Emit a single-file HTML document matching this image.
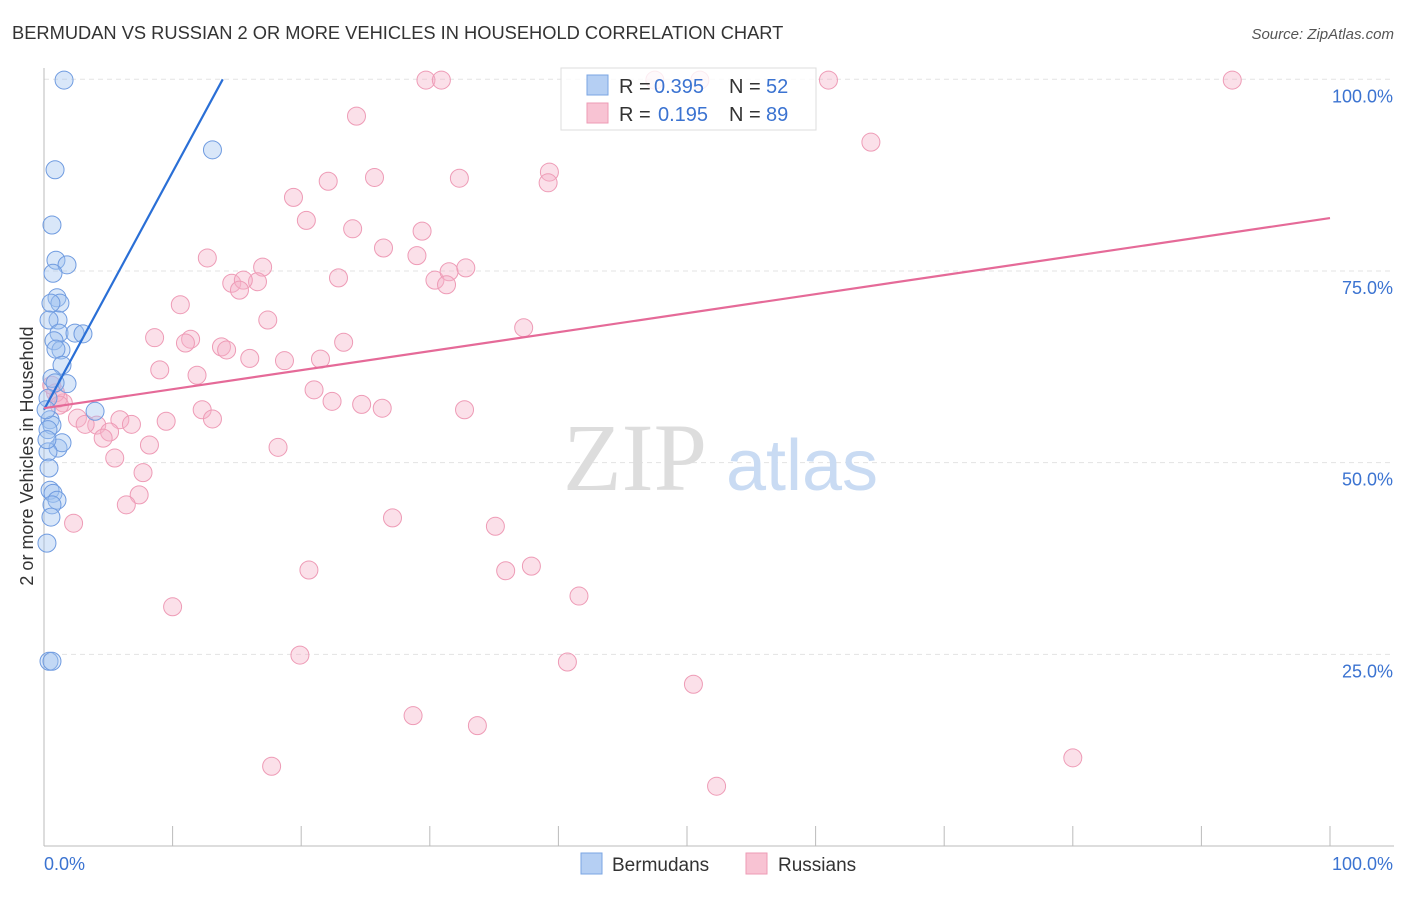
<!DOCTYPE html>
<html><head><meta charset="utf-8"><style>
body{margin:0;background:#fff;font-family:"Liberation Sans",sans-serif;}
</style></head><body>
<svg id="c" width="1406" height="892" xmlns="http://www.w3.org/2000/svg" style="font-family:'Liberation Sans',sans-serif">
<text x="12" y="39" font-size="18.3" fill="#333">BERMUDAN VS RUSSIAN 2 OR MORE VEHICLES IN HOUSEHOLD CORRELATION CHART</text>
<text x="1394" y="39" font-size="15" fill="#555" text-anchor="end" font-style="italic">Source: ZipAtlas.com</text>
<g id="grid"></g>
<g><text x="635" y="490" font-size="96" fill="#ddd" font-family="Liberation Serif" text-anchor="middle">ZIP</text><text x="802" y="490" font-size="72" fill="#c9dbf3" text-anchor="middle">atlas</text></g>
<g id="axes"></g>
<g id="pts"></g>
<g id="lines"></g>
<text transform="translate(33,456) rotate(-90)" font-size="18" fill="#333" text-anchor="middle">2 or more Vehicles in Household</text>
<g>
<rect x="561" y="68" width="255" height="62" fill="#fff" fill-opacity="0.8" stroke="#ddd"/>
<rect x="587" y="75" width="21" height="20" fill="#b5cff3" stroke="#7aa5e3"/>
<rect x="587" y="103" width="21" height="20" fill="#f8c3d3" stroke="#ee9bb6"/>
<text x="619" y="93" font-size="20" fill="#333">R =</text><text x="654" y="93" font-size="20" fill="#3b73d1">0.395</text>
<text x="729" y="93" font-size="20" fill="#333">N =</text><text x="766" y="93" font-size="20" fill="#3b73d1">52</text>
<text x="619" y="121" font-size="20" fill="#333">R =</text><text x="658" y="121" font-size="20" fill="#3b73d1">0.195</text>
<text x="729" y="121" font-size="20" fill="#333">N =</text><text x="766" y="121" font-size="20" fill="#3b73d1">89</text>
</g>
<g>
<rect x="581" y="853" width="21" height="21" fill="#b5cff3" stroke="#7aa5e3"/>
<text x="612" y="871" font-size="19" fill="#333">Bermudans</text>
<rect x="746" y="853" width="21" height="21" fill="#f8c3d3" stroke="#ee9bb6"/>
<text x="778" y="871" font-size="19" fill="#333">Russians</text>
</g>
</svg>
<script>
const blueX=[1.56,0.86,13.1,0.62,0.93,1.79,0.70,1.01,1.24,0.54,1.09,0.39,1.17,2.41,3.03,0.78,1.32,0.93,1.40,0.62,1.79,0.86,3.97,0.47,0.62,0.31,1.09,1.40,0.31,0.39,0.47,0.70,1.01,0.62,0.54,0.23,0.39,0.62,0.31,0.16,0.23];
const blueY=[99.9,88.2,90.8,81.0,76.4,75.8,74.7,71.5,70.8,70.8,68.6,68.6,66.9,66.9,66.8,65.9,64.7,64.8,62.7,61.0,60.3,60.4,56.7,55.6,54.9,54.3,51.9,52.6,51.4,49.3,46.4,46.0,45.1,44.5,42.9,39.5,24.1,24.1,58.4,56.9,53.0];
const pinkX=[29.7,30.9,47.5,51.0,61.0,92.4,24.3,64.3,39.3,39.2,22.1,25.7,32.3,19.4,20.4,24.0,29.4,26.4,29.0,12.7,17.0,30.4,31.5,32.8,31.3,14.6,16.6,15.5,15.2,22.9,10.6,17.4,37.3,8.6,11.4,11.0,23.3,13.8,14.2,16.0,18.7,21.5,9.0,11.9,21.0,22.4,24.7,26.3,32.7,12.3,5.9,9.5,13.1,2.6,4.1,5.1,6.8,3.2,4.6,8.2,5.5,18.2,7.7,7.4,6.4,2.3,27.1,35.1,20.6,35.9,37.9,41.6,10.0,19.9,40.7,50.5,28.7,33.7,17.7,80.0,52.3,1.5,1.1,0.9,1.2,0.6];
const pinkY=[99.9,99.9,99.9,99.9,99.9,99.9,95.2,91.8,87.9,86.5,86.7,87.2,87.1,84.6,81.6,80.5,80.2,78.0,77.0,76.7,75.5,73.8,74.9,75.4,73.2,73.4,73.6,73.8,72.5,74.1,70.6,68.6,67.6,66.3,66.1,65.6,65.7,65.1,64.7,63.6,63.3,63.5,62.1,61.4,59.5,58.0,57.6,57.1,56.9,56.9,55.6,55.4,55.7,55.8,54.9,54.0,55.0,55.0,53.2,52.3,50.6,52.0,48.7,45.8,44.5,42.1,42.8,41.7,36.0,35.9,36.5,32.6,31.2,24.9,24.0,21.1,17.0,15.7,10.4,11.5,7.8,57.8,58.4,59.1,57.5,60.1];
const blueLine=[[0,56.9],[13.9,100]];
const pinkLine=[[0,57.1],[100,81.9]];
const yTicks=[25,50,75,100];
const xTicks=[10,20,30,40,50,60,70,80,90,100];
const X=v=>44+v*12.86, Y=v=>846-v*7.667;
const NS='http://www.w3.org/2000/svg';
function mk(t,a,p){const e=document.createElementNS(NS,t);for(const k in a)e.setAttribute(k,a[k]);p.appendChild(e);return e;}
const grid=document.getElementById('grid'),axes=document.getElementById('axes'),pts=document.getElementById('pts'),lines=document.getElementById('lines');
yTicks.forEach(t=>{const l=mk('line',{x1:44,x2:1394,y1:Y(t),y2:Y(t),stroke:'#e3e3e3','stroke-dasharray':'5,4'},grid);


const tx=mk('text',{x:1393,y:Y(t)+23,'font-size':18,fill:'#3b73d1','text-anchor':'end'},axes);tx.textContent=t.toFixed(1)+'%';

});
mk('line',{x1:44,x2:44,y1:68,y2:846,stroke:'#bbb'},axes);
mk('line',{x1:44,x2:1394,y1:846,y2:846,stroke:'#bbb'},axes);
xTicks.forEach(t=>{const l=mk('line',{x1:X(t),x2:X(t),y1:826,y2:846,stroke:'#bbb'},axes);

});
const a0=mk('text',{x:44,y:870,'font-size':18,fill:'#3b73d1'},axes);a0.textContent='0.0%';


const a1=mk('text',{x:1393,y:870,'font-size':18,fill:'#3b73d1','text-anchor':'end'},axes);a1.textContent='100.0%';


pinkX.forEach((x,i)=>{const c=mk('circle',{cx:X(x),cy:Y(pinkY[i]),r:9,fill:'rgba(246,177,200,0.4)',stroke:'#ee9bb6','stroke-width':1},pts);

});
blueX.forEach((x,i)=>{const c=mk('circle',{cx:X(x),cy:Y(blueY[i]),r:9,fill:'rgba(160,195,240,0.4)',stroke:'#6f9be0','stroke-width':1},pts);

});
const bl=mk('line',{x1:X(blueLine[0][0]),y1:Y(blueLine[0][1]),x2:X(blueLine[1][0]),y2:Y(blueLine[1][1]),stroke:'#2a6fd6','stroke-width':2.2},lines);


const pl=mk('line',{x1:X(pinkLine[0][0]),y1:Y(pinkLine[0][1]),x2:X(pinkLine[1][0]),y2:Y(pinkLine[1][1]),stroke:'#e56a98','stroke-width':2.2},lines);


</script>
</body></html>
